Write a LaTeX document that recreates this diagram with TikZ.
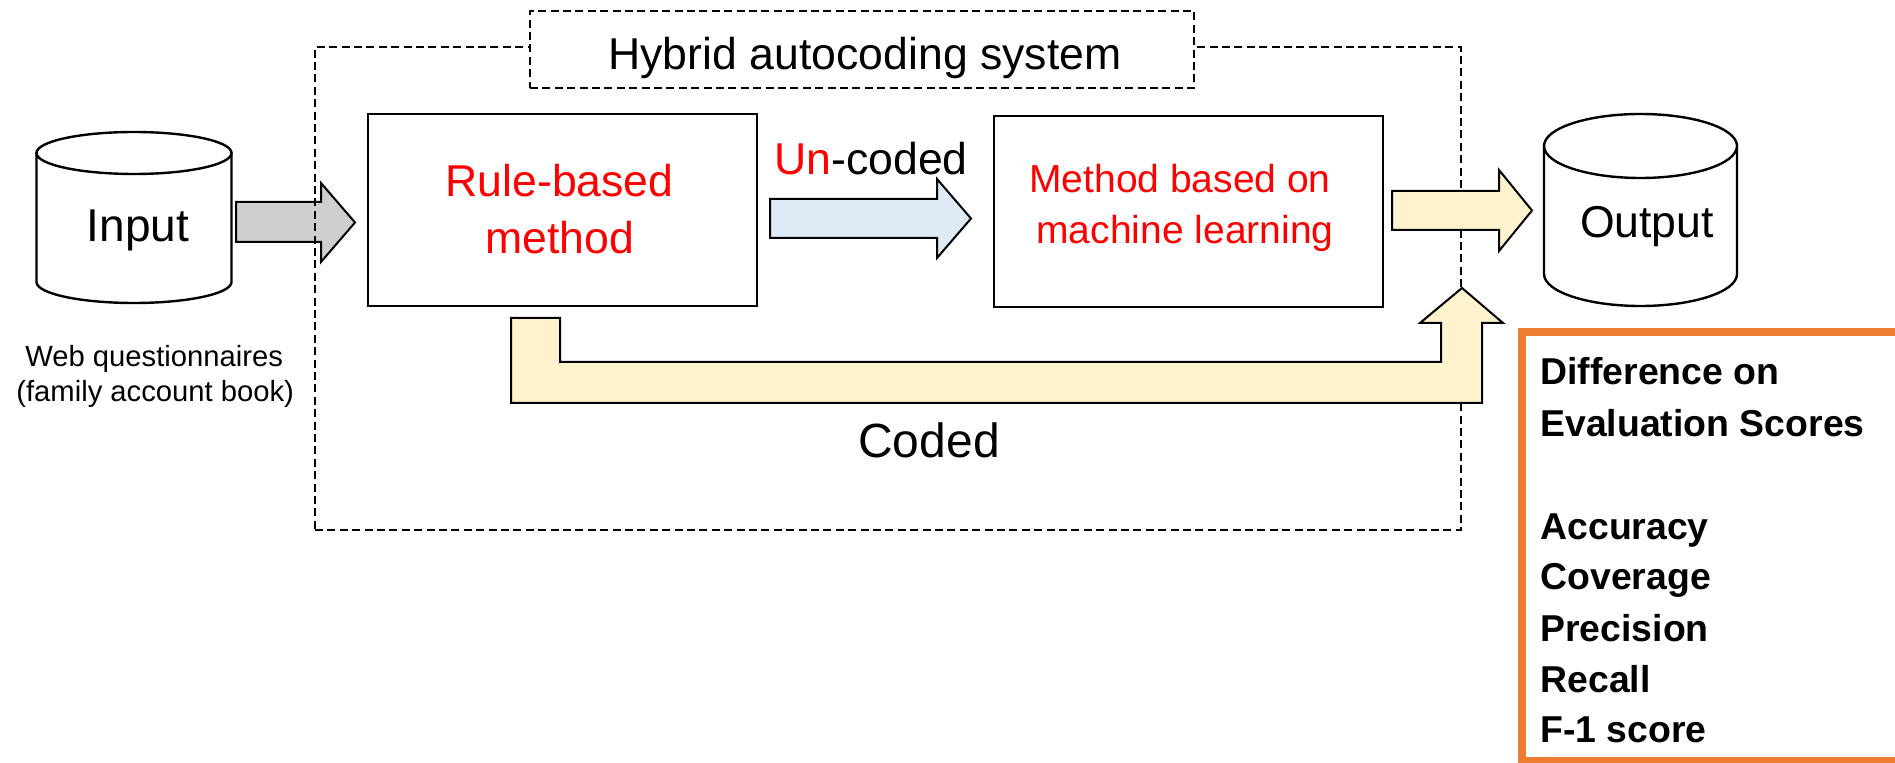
\documentclass[tikz,border=0pt]{standalone}
\usepackage{fontspec}
\setmainfont{Liberation Sans}
\definecolor{arrowgray}{HTML}{D0CECE}
\definecolor{arrowblue}{HTML}{DEEBF7}
\definecolor{arrowyellow}{HTML}{FFF2CC}
\definecolor{scoreorange}{HTML}{ED7D31}
\definecolor{textred}{HTML}{FF0000}
\begin{document}
\begin{tikzpicture}[x=0.5pt,y=-0.5pt,
  dashedframe/.style={draw, dash pattern=on 4pt off 2.2pt, line width=0.9pt, inner sep=0pt},
  procbox/.style={draw, fill=white, line width=1.2pt, inner sep=0pt},
  blockarrow/.style={draw, line width=1pt, line join=miter},
  cylline/.style={draw, fill=white, line width=1.2pt},
  txt/.style={inner sep=0pt, anchor=base},
  ltxt/.style={inner sep=0pt, anchor=base west},
  bigfont/.style={font=\fontsize{22.3}{26}\selectfont},
  mlfont/.style={font=\fontsize{19.5}{23}\selectfont},
  smallfont/.style={font=\fontsize{14.6}{17}\selectfont},
  scorefont/.style={font=\fontsize{18.7}{22}\selectfont\bfseries}]
\useasboundingbox (0,0) rectangle (1895,763);
\clip (0,0) rectangle (1895,763);

% input arrow into the system
\draw[blockarrow, fill=arrowgray] (236,202) -- (321,202) -- (321,183) -- (355,222.5)
  -- (321,262) -- (321,242) -- (236,242) -- cycle;

% system frame and its title box
\node[dashedframe, minimum width=573pt, minimum height=241.5pt] (system) at (888,288.5) {};
\node[dashedframe, fill=white, minimum width=332pt, minimum height=38.5pt] (titlebox) at (862,49.5) {};
\node[txt, font=\fontsize{22.3}{26}\selectfont] (title) at (865,70) {Hybrid autocoding system};

% the two coding stages
\node[procbox, minimum width=194.5pt, minimum height=96pt] (rule) at (562.5,210) {};
\node[procbox, minimum width=194.5pt, minimum height=95.5pt] (ml) at (1188.5,211.5) {};
\node[txt, bigfont, text=textred] (rule1) at (559.5,197) {Rule-based};
\node[txt, bigfont, text=textred] (rule2) at (559.5,254) {method};
\node[txt, mlfont, text=textred] (ml1) at (1180,193) {Method based on};
\node[txt, mlfont, text=textred] (ml2) at (1185,244) {machine learning};

% uncoded records go on to machine learning
\draw[blockarrow, fill=arrowblue] (770,199) -- (937,199) -- (937,179) -- (971,218.5)
  -- (937,258) -- (937,238) -- (770,238) -- cycle;
\node[ltxt, bigfont] (uncoded) at (774,175) {\textcolor{textred}{Un}-coded};

% coded records bypass to the output
\draw[blockarrow, fill=arrowyellow] (511,318) -- (560,318) -- (560,362) -- (1441,362)
  -- (1441,323) -- (1420,323) -- (1462,288) -- (1503,323) -- (1482,323) -- (1482,403)
  -- (511,403) -- cycle;
\node[txt, font=\fontsize{24}{28}\selectfont] (coded) at (929,458) {Coded};

% machine learning results to the output
\draw[blockarrow, fill=arrowyellow] (1392,191) -- (1499,191) -- (1499,170) -- (1532,210.5)
  -- (1499,251) -- (1499,230) -- (1392,230) -- cycle;

% input database
\path[cylline] (36.5,153) -- (36.5,282)
  arc[start angle=180, end angle=360, x radius=48.75pt, y radius=10.5pt] -- (231.5,153) -- cycle;
\draw[line width=1.2pt, fill=white] (134,153) ellipse [x radius=48.75pt, y radius=10.5pt];
\node[txt, font=\fontsize{23}{27}\selectfont] (input) at (138,242) {Input};

% output database
\path[cylline] (1544,146) -- (1544,274)
  arc[start angle=180, end angle=360, x radius=48.25pt, y radius=16pt] -- (1737,146) -- cycle;
\draw[line width=1.2pt, fill=white] (1640.5,146) ellipse [x radius=48.25pt, y radius=16pt];
\node[txt, font=\fontsize{22.3}{26}\selectfont] (output) at (1647,238) {Output};

% data source
\node[ltxt, smallfont] (src1) at (25,367) {Web questionnaires};
\node[ltxt, smallfont] (src2) at (16,402) {(family account book)};

% evaluation scores panel
\draw[scoreorange, line width=4pt] (1522,332) rectangle (1915,761);
\node[ltxt, scorefont] (sc1) at (1540,385) {Difference on};
\node[ltxt, scorefont] (sc2) at (1540,437) {Evaluation Scores};
\node[ltxt, scorefont] (sc3) at (1540,540) {Accuracy};
\node[ltxt, scorefont] (sc4) at (1540,590) {Coverage};
\node[ltxt, scorefont] (sc5) at (1540,642) {Precision};
\node[ltxt, scorefont] (sc6) at (1540,693) {Recall};
\node[ltxt, scorefont] (sc7) at (1540,743) {F-1 score};
\end{tikzpicture}
\end{document}
